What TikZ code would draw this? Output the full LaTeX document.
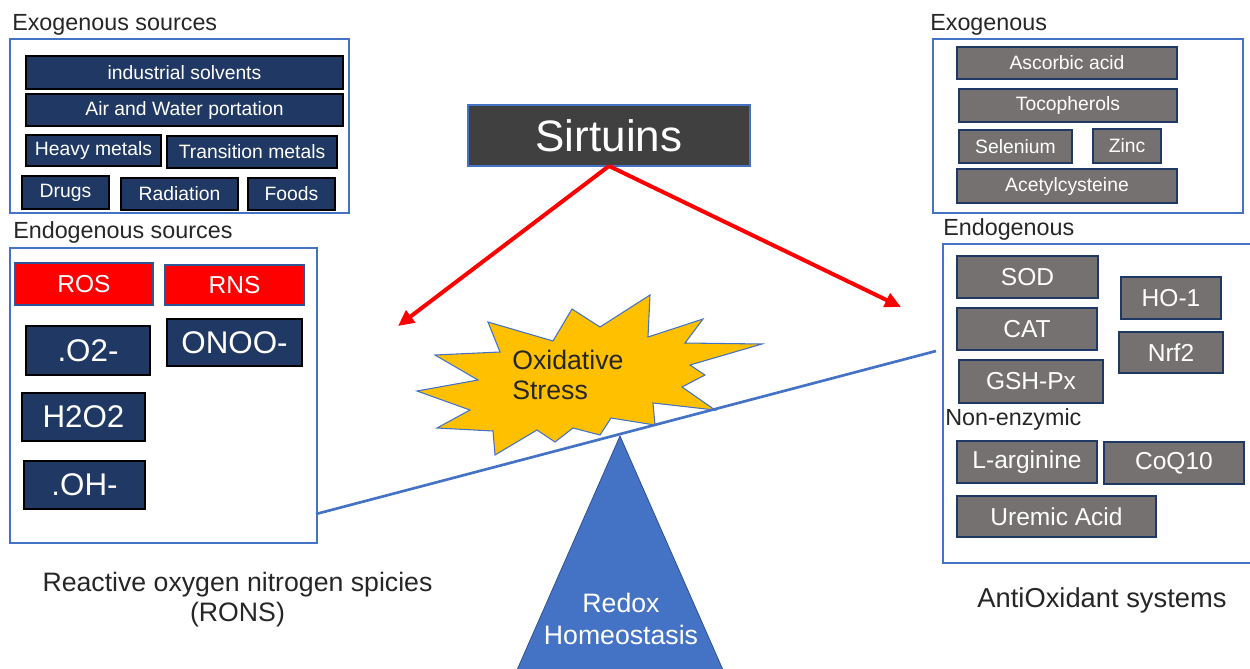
\documentclass[tikz,border=0pt]{standalone}
\usepackage{fontspec}
\setmainfont{Liberation Sans}
\usetikzlibrary{arrows.meta}
\definecolor{navyfill}{HTML}{203864}
\definecolor{grayfill}{HTML}{767171}
\definecolor{frameblue}{HTML}{4472C4}
\definecolor{boxedge}{HTML}{2F5597}
\definecolor{sirtfill}{HTML}{404040}
\definecolor{starfill}{HTML}{FFC000}
\definecolor{labeltext}{HTML}{262626}
\definecolor{redfill}{HTML}{FF0000}
\definecolor{triedge}{HTML}{2F528F}
\definecolor{arrowred}{HTML}{FF0000}
\newcommand\bx[7]{\node[#6, minimum width={(#4-#2)*0.75pt}, minimum height={(#5-#3)*0.75pt}] (#1) at ({(#2+#4)/2},{(#3+#5)/2}) {#7};}
\tikzset{
  frame/.style={draw=frameblue, line width=1pt, inner sep=0pt, outer sep=0pt},
  navybox/.style={draw=black, fill=navyfill, line width=0.9pt, text=white, inner sep=0pt, outer sep=0pt, font=\fontsize{14.5}{17}\selectfont},
  formulabox/.style={navybox, font=\fontsize{23.5}{28}\selectfont},
  redbox/.style={draw=boxedge, fill=redfill, line width=0.9pt, text=white, inner sep=0pt, outer sep=0pt, font=\fontsize{18.4}{22}\selectfont},
  graybox/.style={draw=navyfill, fill=grayfill, line width=1pt, text=white, inner sep=0pt, outer sep=0pt, font=\fontsize{14.5}{17}\selectfont},
  biggray/.style={graybox, font=\fontsize{18.4}{22}\selectfont},
  sirtbox/.style={draw=frameblue, fill=sirtfill, line width=0.8pt, text=white, inner sep=0pt, outer sep=0pt, font=\fontsize{33}{38}\selectfont},
  lbl/.style={text=labeltext, inner sep=0pt, anchor=base west, font=\fontsize{17.5}{21}\selectfont},
  redarrow/.style={draw=arrowred, line width=3pt, -{Triangle[length=12pt,width=11pt]}},
}
\begin{document}
\begin{tikzpicture}[x=0.75pt,y=-0.75pt]
\useasboundingbox (0,0) rectangle (1250,668);

% ---------- left: RONS ----------
\node[lbl] (exoL) at (12,30) {Exogenous sources};
\bx{exoframe}{10}{39}{349}{213}{frame}{}
\bx{ind}{26}{56}{343}{89}{navybox}{industrial solvents}
\bx{air}{26}{94}{343}{126}{navybox}{Air and Water portation}
\bx{heavy}{26}{135}{161}{166}{navybox}{Heavy metals}
\bx{trans}{167}{136}{337}{168}{navybox}{Transition metals}
\bx{drugs}{22}{176}{109}{209}{navybox}{Drugs}
\bx{rad}{121}{178}{238}{210}{navybox}{Radiation}
\bx{foods}{248}{178}{335}{210}{navybox}{Foods}

\node[lbl] (endoL) at (13,238) {Endogenous sources};
\bx{endoframe}{10}{248}{317}{543}{frame}{}
\bx{ros}{15}{263}{153}{305}{redbox}{ROS}
\bx{rns}{165}{265}{304}{305}{redbox}{RNS}
\bx{o2}{26}{326}{150}{375}{formulabox}{.O2-}
\bx{onoo}{167}{319}{302}{366}{formulabox}{ONOO-}
\bx{h2o2}{22}{393}{145}{441}{formulabox}{H2O2}
\bx{oh}{24}{461}{145}{509}{formulabox}{.OH-}

\node[text=labeltext, align=center, font=\fontsize{20}{22.5}\selectfont, inner sep=0pt] (rons) at (237.5,600) {Reactive oxygen nitrogen spicies\\(RONS)};

% ---------- right: antioxidants ----------
\node[lbl] (exoR) at (930,30) {Exogenous};
\bx{exoRframe}{933}{39}{1243}{213}{frame}{}
\bx{asc}{957}{47}{1177}{79}{graybox}{Ascorbic acid}
\bx{toc}{959}{89}{1177}{122}{graybox}{Tocopherols}
\bx{sel}{959}{130}{1072}{163}{graybox}{Selenium}
\bx{zinc}{1093}{129}{1161}{163}{graybox}{Zinc}
\bx{acet}{957}{169}{1177}{203}{graybox}{Acetylcysteine}

\node[lbl] (endoR) at (943,235) {Endogenous};
\bx{endoRframe}{943}{244}{1262}{563}{frame}{}
\bx{sod}{957}{256}{1098}{298}{biggray}{SOD}
\bx{cat}{957}{308}{1097}{350}{biggray}{CAT}
\bx{gsh}{959}{360}{1103}{403}{biggray}{GSH-Px}
\bx{ho}{1121}{277}{1221}{319}{biggray}{HO-1}
\bx{nrf}{1119}{332}{1223}{373}{biggray}{Nrf2}
\node[lbl] (nonenz) at (945,425) {Non-enzymic};
\bx{larg}{957}{441}{1097}{483}{biggray}{L-arginine}
\bx{coq}{1104}{442}{1244}{484}{biggray}{CoQ10}
\bx{uremic}{957}{496}{1156}{537}{biggray}{Uremic Acid}

\node[text=labeltext, inner sep=0pt, anchor=base, font=\fontsize{20.5}{24}\selectfont] (antiox) at (1102,607) {AntiOxidant systems};

% ---------- centre ----------
\bx{sirt}{468}{105}{750}{166}{sirtbox}{Sirtuins}
\coordinate (tipL) at (398,326);
\coordinate (tipR) at (901,307);
\draw[redarrow] (sirt.south) -- (tipL);
\draw[redarrow] (sirt.south) -- (tipR);

% fulcrum
\fill[frameblue, draw=triedge, line width=0.6pt] (620,436) -- (517,670) -- (723,670) -- cycle;
\node[text=white, align=center, inner sep=0pt, font=\fontsize{20}{24}\selectfont] (redox) at (621,619) {Redox\\Homeostasis};

% star
\draw[fill=starfill, draw=frameblue, line width=0.8pt, line join=miter]
 (417,391) -- (478,380) -- (435,355) -- (500,352) -- (488,322) -- (553,341) -- (572,309) -- (600,327)
 -- (650,295) -- (648,337) -- (703,319) -- (685,343) -- (762,344) -- (690,365) -- (705,375) -- (682,387)
 -- (715,410) -- (653,403) -- (655,425) -- (611,418) -- (600,435) -- (573,428) -- (555,442) -- (537,430)
 -- (495,455) -- (493,431) -- (437,428) -- (470,410) -- cycle;
\node[anchor=west, align=left, inner sep=0pt, text=black!85, font=\fontsize{20}{22.5}\selectfont] (ox) at (512,375) {Oxidative\\Stress};

% seesaw beam
\coordinate (beamL) at (316,514);
\coordinate (beamR) at (936,351);
\draw[frameblue, line width=2pt] (beamL) -- (beamR);
\end{tikzpicture}
\end{document}
